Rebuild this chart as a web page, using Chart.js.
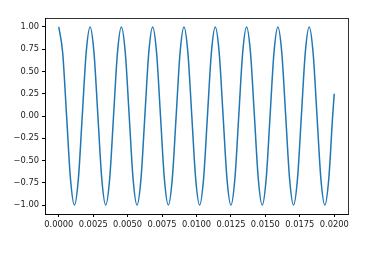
<!DOCTYPE html>
<html>
<head>
<meta charset="utf-8">
<script src="https://cdn.jsdelivr.net/npm/chart.js@4"></script>
<style>
  html, body { margin: 0; padding: 0; background: #fff; }
  #wrap { width: 383px; height: 256px; }
</style>
</head>
<body>
<div id="wrap"><canvas id="myChart" width="383" height="256"></canvas></div>
<script>
// time (s) at about 1/8 of a period
var times = [
  0, 0.000284, 0.000568, 0.000852, 0.001136, 0.001420, 0.001705, 0.001989,
  0.002273, 0.002557, 0.002841, 0.003125, 0.003409, 0.003693, 0.003977, 0.004261,
  0.004545, 0.004830, 0.005114, 0.005398, 0.005682, 0.005966, 0.006250, 0.006534,
  0.006818, 0.007102, 0.007386, 0.007670, 0.007955, 0.008239, 0.008523, 0.008807,
  0.009091, 0.009375, 0.009659, 0.009943, 0.010227, 0.010511, 0.010795, 0.011080,
  0.011364, 0.011648, 0.011932, 0.012216, 0.012500, 0.012784, 0.013068, 0.013352,
  0.013636, 0.013920, 0.014205, 0.014489, 0.014773, 0.015057, 0.015341, 0.015625,
  0.015909, 0.016193, 0.016477, 0.016761, 0.017045, 0.017330, 0.017614, 0.017898,
  0.018182, 0.018466, 0.018750, 0.019034, 0.019318, 0.019602, 0.019886, 0.020000
];
var amplitude = [
  1, 0.71, 0, -0.71, -1, -0.71, 0, 0.71,
  1, 0.71, 0, -0.71, -1, -0.71, 0, 0.71,
  1, 0.71, 0, -0.71, -1, -0.71, 0, 0.71,
  1, 0.71, 0, -0.71, -1, -0.71, 0, 0.71,
  1, 0.71, 0, -0.71, -1, -0.71, 0, 0.71,
  1, 0.71, 0, -0.71, -1, -0.71, 0, 0.71,
  1, 0.71, 0, -0.71, -1, -0.71, 0, 0.71,
  1, 0.71, 0, -0.71, -1, -0.71, 0, 0.71,
  1, 0.71, 0, -0.71, -1, -0.71, 0, 0.25
];
var xTicks = [0, 0.0025, 0.005, 0.0075, 0.01, 0.0125, 0.015, 0.0175, 0.02];
var yTicks = [-1, -0.75, -0.5, -0.25, 0, 0.25, 0.5, 0.75, 1];

var points = [];
for (var i = 0; i < times.length; i++) {
  points.push({ x: times[i], y: amplitude[i] });
}

// box around the plot area, like matplotlib's spines
var frame = {
  id: 'frame',
  afterDraw: function(chart) {
    var a = chart.chartArea, c = chart.ctx;
    c.save();
    c.strokeStyle = '#000';
    c.lineWidth = 0.8;
    c.strokeRect(Math.round(a.left) + 0.5, Math.round(a.top) + 0.5,
      Math.round(a.right - a.left), Math.round(a.bottom - a.top));
    c.restore();
  }
};

Chart.defaults.font.family = 'DejaVu Sans';
Chart.defaults.font.size = 8.3;
Chart.defaults.color = '#222';

var ctx = document.getElementById('myChart').getContext('2d');
var chart = new Chart(ctx, {
  type: 'line',
  data: {
    datasets: [{
      data: points,
      borderColor: '#1f77b4',
      borderWidth: 1.5,
      pointRadius: 0,
      cubicInterpolationMode: 'monotone',
      fill: false
    }]
  },
  options: {
    responsive: false,
    animation: false,
    layout: { padding: { left: 0, top: 18, right: 35, bottom: 22 } },
    plugins: { legend: { display: false }, tooltip: { enabled: false } },
    scales: {
      x: {
        type: 'linear',
        min: -0.001,
        max: 0.021,
        afterBuildTicks: function(s) { s.ticks = xTicks.map(function(v) { return { value: v }; }); },
        afterFit: function(s) { s.height = 20; },
        grid: { drawOnChartArea: false, drawTicks: true, tickLength: 3, color: '#000' },
        border: { display: true, color: '#000', width: 0.8 },
        ticks: {
          padding: 3,
          maxRotation: 0,
          autoSkip: false,
          callback: function(v) { return v.toFixed(4); }
        }
      },
      y: {
        min: -1.1,
        max: 1.1,
        afterBuildTicks: function(s) { s.ticks = yTicks.map(function(v) { return { value: v }; }); },
        afterFit: function(s) { s.width = 45; },
        grid: { drawOnChartArea: false, drawTicks: true, tickLength: 3, color: '#000' },
        border: { display: true, color: '#000', width: 0.8 },
        ticks: {
          padding: 3,
          autoSkip: false,
          callback: function(v) { return v.toFixed(2).replace('-', '\u2212'); }
        }
      }
    }
  },
  plugins: [frame]
});
</script>
</body>
</html>
